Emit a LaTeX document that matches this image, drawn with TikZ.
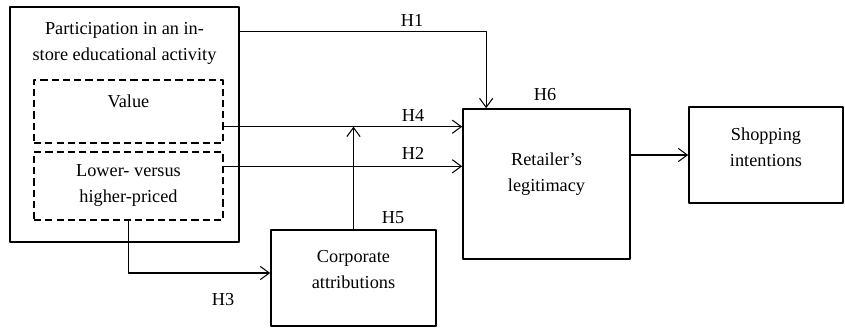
\documentclass[tikz,border=0pt]{standalone}
\usepackage{fontspec}
\setmainfont{Liberation Serif}
\usepackage{tikz}
\usetikzlibrary{arrows.meta,calc,fit}

\begin{document}
\begin{tikzpicture}[line cap=round,line join=round,>={Straight Barb[length=6.4pt,width=9.4pt]},x=0.025cm,y=-0.025cm,
    box/.style={draw,line width=1.2pt,inner sep=0pt},
    dbox/.style={draw,line width=1pt,dash pattern=on 5pt off 3pt,line cap=butt,inner sep=0pt},
    txt/.style={align=center,font=\fontsize{13}{18.5}\selectfont},
    arr/.style={->,line width=0.75pt}]
                \useasboundingbox (0,0) rectangle (845,331);
                % boxes
                \node[box,fit={(10,7) (239,242)}] (part) {};
                \node[dbox,fit={(34,80) (223,143)}] (val) {};
                \node[dbox,fit={(34,152) (223,220)}] (low) {};
                \node[box,fit={(463,109) (630,259)}] (ret) {};
                \node[box,fit={(689,107) (843,203)}] (shop) {};
                \node[box,fit={(271,230) (436,326)}] (corp) {};
                % texts
                \node[txt] (partlab) at (124.5,43) {Participation in an in-\\store educational activity};
                \node[txt] (vallab) at (128.5,101) {Value};
                \node[txt] (lowlab) at (128.5,185) {Lower- versus\\higher-priced};
                \node[txt] (retlab) at (546.5,174) {Retailer’s\\legitimacy};
                \node[txt] (shoplab) at (766,147) {Shopping\\intentions};
                \node[txt] (corplab) at (353.5,270) {Corporate\\attributions};
                % paths
                \coordinate (h1) at ($(part.north east)+(0,25)$);
                \coordinate (h4) at ($(val.south east)+(0,-17)$);
                \coordinate (h2) at ($(low.north east)+(0,15)$);
                \draw[arr] (h1) -| ($(ret.north west)+(24,0)$);
                \draw[arr] (h4) -- (h4 -| ret.west);
                \draw[arr] (h2) -- (h2 -| ret.west);
                \draw[arr] (corp.north) -- (corp.north |- h4);
                \draw[arr] (low.south) |- ($(corp.west)+(0,-5)$);
                \draw[arr] (ret.east |- shop.west) -- (shop.west);
                % hypotheses
                \node[txt] (l1) at (412,20) {H1};
                \node[txt] (l4) at (413,115) {H4};
                \node[txt] (l2) at (413,153) {H2};
                \node[txt] (l6) at (545,95) {H6};
                \node[txt] (l5) at (393,218) {H5};
                \node[txt] (l3) at (223,300) {H3};
            \end{tikzpicture}
\end{document}
